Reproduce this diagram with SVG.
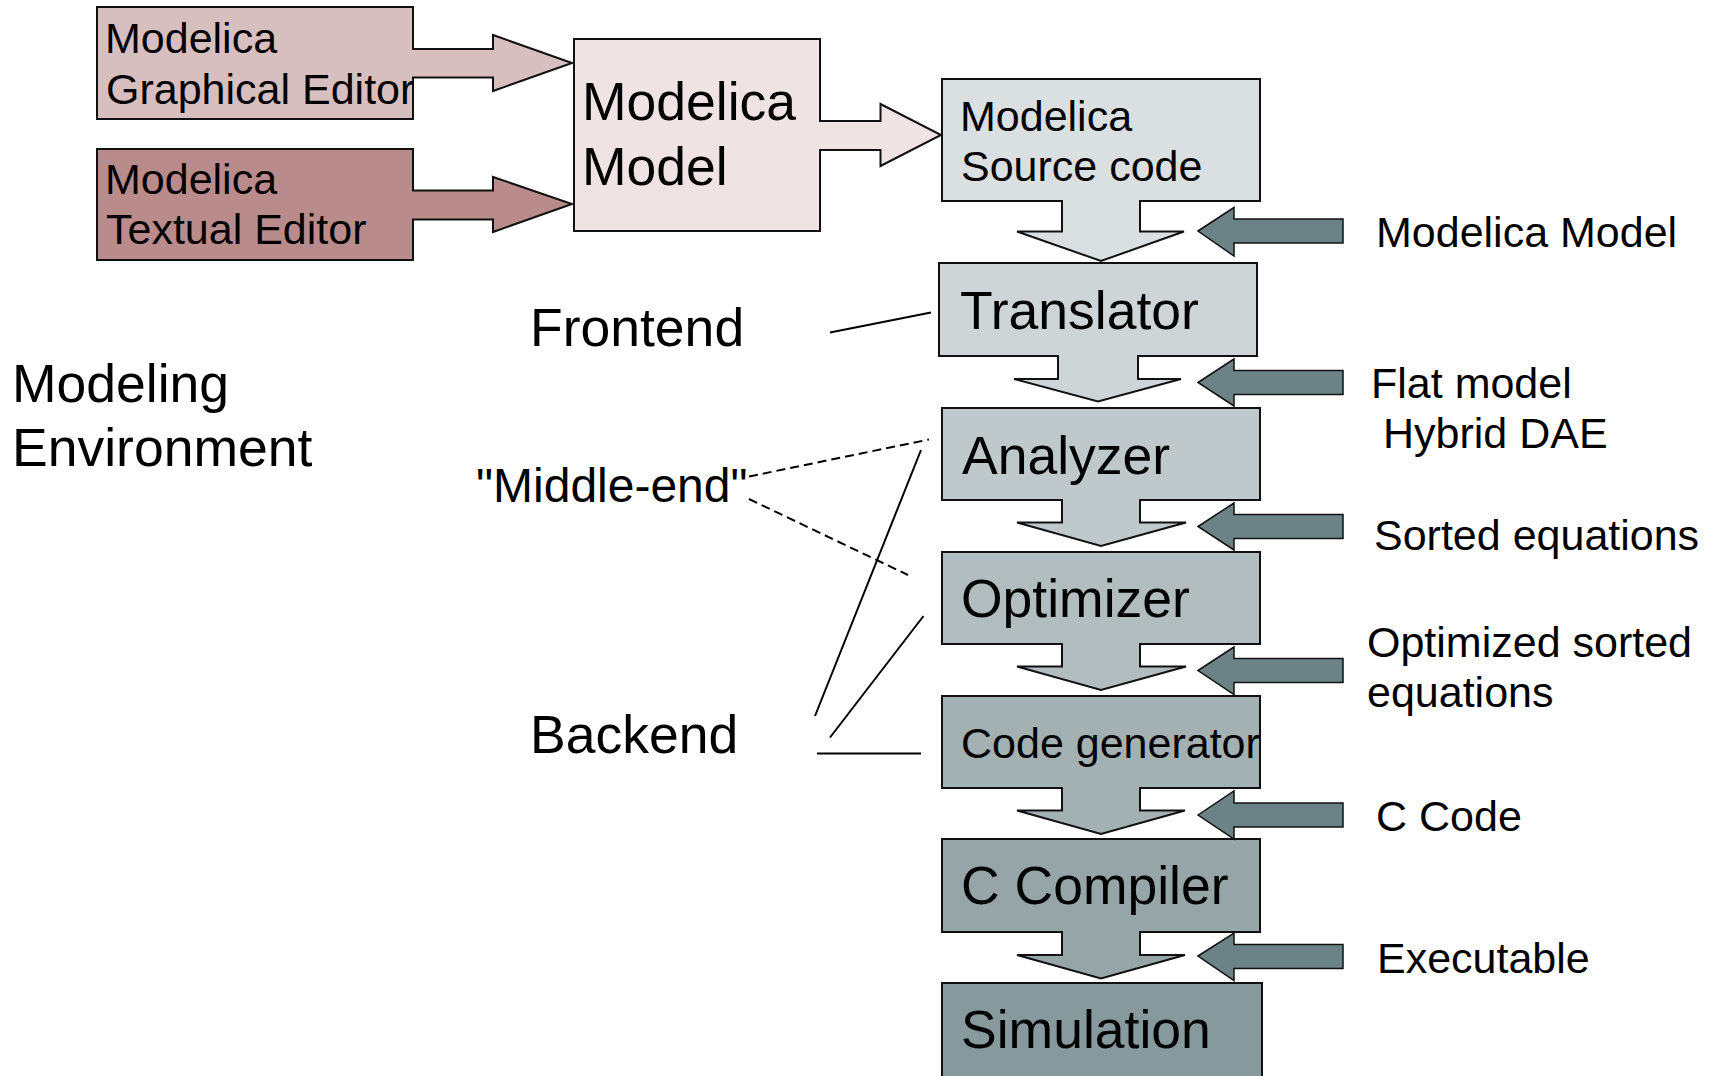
<svg xmlns="http://www.w3.org/2000/svg" width="1709" height="1076" viewBox="0 0 1709 1076">
  <style>
    text { font-family: "Liberation Sans", Arial, sans-serif; fill: #000; }
    .t42 { font-size: 43px; }
    .t52 { font-size: 53.5px; }
    .t47 { font-size: 48px; }
    .box { stroke: #111; stroke-width: 2; }
    .arr { stroke: #111; stroke-width: 2; stroke-linejoin: miter; }
    .side { fill: #6b8286; stroke: #111; stroke-width: 1.5; }
    .line { stroke: #000; stroke-width: 2; fill: none; }
    .dash { stroke: #000; stroke-width: 2; fill: none; stroke-dasharray: 9 5; }
  </style>

  <!-- editors feeding the model -->
  <g id="graphical-editor">
    <rect class="box" x="97" y="7" width="316" height="112" fill="#d8bfbf"/>
    <path class="arr" fill="#d8bfbf" d="M412,49 H493 V35 L572,63 L493,91 V77.5 H412"/>
    <text class="t42" x="105" y="53">Modelica</text>
    <text class="t42" x="106" y="104">Graphical Editor</text>
  </g>

  <g id="textual-editor">
    <rect class="box" x="97" y="149" width="316" height="111" fill="#b98c8b"/>
    <path class="arr" fill="#b98c8b" d="M412,190.5 H493 V177 L572,204 L493,232 V219.5 H412"/>
    <text class="t42" x="105" y="194">Modelica</text>
    <text class="t42" x="106" y="244">Textual Editor</text>
  </g>

  <g id="modelica-model">
    <rect class="box" x="574" y="39" width="246" height="192" fill="#efe4e3"/>
    <path class="arr" fill="#efe4e3" d="M819,121 H880.5 V104 L941,135 L880.5,166 V150 H819"/>
    <text class="t52" x="582" y="120">Modelica</text>
    <text class="t52" x="582" y="185">Model</text>
  </g>

  <!-- compiler pipeline -->
  <g id="source-code">
    <rect class="box" x="942" y="79" width="318" height="122" fill="#dadfe1"/>
    <path class="arr" fill="#dadfe1" d="M1062,200 V231.5 H1017 L1101,261 L1184,231.5 H1140 V200"/>
    <text class="t42" x="960" y="131">Modelica</text>
    <text class="t42" x="961" y="181">Source code</text>
  </g>

  <g id="translator">
    <rect class="box" x="939" y="263" width="318" height="93" fill="#cdd5d7"/>
    <path class="arr" fill="#cdd5d7" d="M1058,355 V379 H1014 L1098,401.5 L1181,379 H1138 V355"/>
    <text class="t52" x="960" y="329">Translator</text>
  </g>

  <g id="analyzer">
    <rect class="box" x="942" y="408" width="318" height="92" fill="#bfc9cb"/>
    <path class="arr" fill="#bfc9cb" d="M1062,499 V522.5 H1017 L1101,546 L1186,522.5 H1140 V499"/>
    <text class="t52" x="962" y="474">Analyzer</text>
  </g>

  <g id="optimizer">
    <rect class="box" x="942" y="552" width="318" height="92" fill="#b1bdbf"/>
    <path class="arr" fill="#b1bdbf" d="M1062,643 V666.5 H1017 L1101,690 L1186,666.5 H1140 V643"/>
    <text class="t52" x="961" y="617">Optimizer</text>
  </g>

  <g id="code-generator">
    <rect class="box" x="942" y="696" width="318" height="92" fill="#a4b1b3"/>
    <path class="arr" fill="#a4b1b3" d="M1062,787 V810.5 H1017 L1101,834 L1185,810.5 H1140 V787"/>
    <text class="t42" x="961" y="758">Code generator</text>
  </g>

  <g id="c-compiler">
    <rect class="box" x="942" y="839" width="318" height="93" fill="#96a5a8"/>
    <path class="arr" fill="#96a5a8" d="M1062,931 V955 H1017 L1101,978.5 L1185,955 H1140 V931"/>
    <text class="t52" x="961" y="904">C Compiler</text>
  </g>

  <g id="simulation">
    <rect class="box" x="942" y="983" width="320" height="100" fill="#86999c"/>
    <text class="t52" x="961" y="1048">Simulation</text>
  </g>

  <!-- intermediate artefacts entering from the right -->
  <g id="artefact-arrows">
    <polygon class="side" points="1198,231 1234,207.5 1234,219 1343,219 1343,243 1234,243 1234,256"/>
    <polygon class="side" points="1198,382.5 1234,359 1234,370.5 1343,370.5 1343,394.5 1234,394.5 1234,406"/>
    <polygon class="side" points="1198,526.5 1234,503 1234,514.5 1343,514.5 1343,538.5 1234,538.5 1234,550"/>
    <polygon class="side" points="1198,670.5 1234,647 1234,658.5 1343,658.5 1343,682.5 1234,682.5 1234,694.5"/>
    <polygon class="side" points="1198,815 1234,791 1234,803 1343,803 1343,827 1234,827 1234,839"/>
    <polygon class="side" points="1198,956 1234,933 1234,944.5 1343,944.5 1343,968.5 1234,968.5 1234,980.5"/>
  </g>

  <g id="artefact-labels">
    <text class="t42" x="1376" y="247">Modelica Model</text>
    <text class="t42" x="1371" y="398">Flat model</text>
    <text class="t42" x="1383" y="448">Hybrid DAE</text>
    <text class="t42" x="1374" y="550">Sorted equations</text>
    <text class="t42" x="1367" y="657">Optimized sorted</text>
    <text class="t42" x="1367" y="707">equations</text>
    <text class="t42" x="1376" y="831">C Code</text>
    <text class="t42" x="1377" y="973">Executable</text>
  </g>

  <!-- stage labels -->
  <g id="stage-labels">
    <text class="t52" x="12" y="402">Modeling</text>
    <text class="t52" x="12" y="466">Environment</text>
    <text class="t52" x="530" y="346">Frontend</text>
    <text class="t47" x="476" y="502">"Middle-end"</text>
    <text class="t52" x="530" y="753">Backend</text>
  </g>

  <g id="connectors">
    <line class="line" x1="830" y1="332.5" x2="931" y2="312.5"/>
    <line class="dash" x1="749" y1="476.5" x2="929" y2="439.5"/>
    <line class="dash" x1="749" y1="499" x2="908" y2="575"/>
    <line class="line" x1="815" y1="716" x2="921" y2="450"/>
    <line class="line" x1="830" y1="737.5" x2="923.5" y2="616"/>
    <line class="line" x1="817" y1="753.5" x2="921" y2="753.5"/>
  </g>
</svg>
